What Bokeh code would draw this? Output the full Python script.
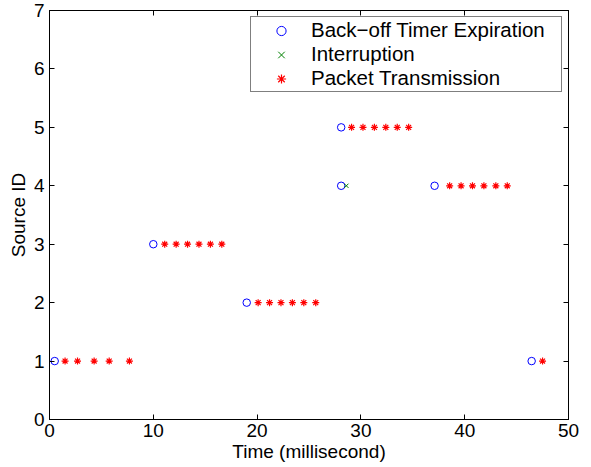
from bokeh.plotting import figure
from bokeh.models import Range1d, LinearAxis, FixedTicker, Legend, LegendItem
from bokeh.embed import file_html
from bokeh.resources import INLINE

# ---- data ----
backoff_time = [0.5, 10.0, 19.0, 28.1, 28.1, 37.1, 46.45]
backoff_src = [1, 3, 2, 5, 4, 4, 1]

interrupt_time = [28.6]
interrupt_src = [4]

tx_time = [1.5, 2.7, 4.3, 5.75, 7.7,
           11.1, 12.2, 13.3, 14.4, 15.5, 16.6,
           20.1, 21.2, 22.3, 23.4, 24.5, 25.65,
           29.1, 30.2, 31.3, 32.4, 33.5, 34.6,
           38.55, 39.65, 40.75, 41.85, 43.0, 44.1,
           47.5]
tx_src = [1, 1, 1, 1, 1,
          3, 3, 3, 3, 3, 3,
          2, 2, 2, 2, 2, 2,
          5, 5, 5, 5, 5, 5,
          4, 4, 4, 4, 4, 4,
          1]

x_ticks = [0, 10, 20, 30, 40, 50]
y_ticks = [0, 1, 2, 3, 4, 5, 6, 7]
series_labels = ["Back\u2212off Timer Expiration", "Interruption", "Packet Transmission"]

FONT = "Liberation Sans"

p = figure(width=591, height=467, output_backend="svg", toolbar_location=None,
           x_range=Range1d(0, 50), y_range=Range1d(0, 7),
           min_border_left=49, min_border_right=23, min_border_top=10, min_border_bottom=48)
p.outline_line_color = "black"
p.outline_line_width = 1
p.grid.visible = False
p.background_fill_color = "white"
p.border_fill_color = "white"

for ax, ticks in ((p.xaxis[0], x_ticks), (p.yaxis[0], y_ticks)):
    ax.ticker = FixedTicker(ticks=ticks)
    ax.major_tick_in = 5
    ax.major_tick_out = 0
    ax.minor_tick_in = 0
    ax.minor_tick_out = 0
    ax.axis_line_color = "black"
    ax.major_tick_line_color = "black"
    ax.major_label_text_font = FONT
    ax.major_label_text_font_size = "19px"
    ax.major_label_text_color = "black"
    ax.axis_label_text_font = FONT
    ax.axis_label_text_font_size = "19px"
    ax.axis_label_text_font_style = "normal"
    ax.axis_label_text_color = "black"

p.xaxis[0].axis_label = "Time (millisecond)"
p.xaxis[0].major_label_standoff = 4
p.xaxis[0].axis_label_standoff = 1
p.yaxis[0].axis_label = "Source ID"
p.yaxis[0].major_label_standoff = 5
p.yaxis[0].axis_label_standoff = 2

# box ticks on top and right
for loc, ticks in (("right", y_ticks), ("above", x_ticks)):
    a = LinearAxis(ticker=FixedTicker(ticks=ticks), major_tick_in=5, major_tick_out=0,
                   minor_tick_in=0, minor_tick_out=0,
                   major_label_overrides={t: "" for t in ticks},
                   major_label_standoff=0, axis_line_color="black")
    p.add_layout(a, loc)

r1 = p.scatter(backoff_time, backoff_src, marker="circle", size=7.5, fill_color=None,
               line_color="#0000ff", line_width=1)
r2 = p.scatter(interrupt_time, interrupt_src, marker="x", size=6,
               line_color="#008000", line_width=1)
r3 = p.scatter(tx_time, tx_src, marker="asterisk", size=7,
               line_color="#ff0000", line_width=1.2)

legend = Legend(items=[LegendItem(label=series_labels[0], renderers=[r1]),
                       LegendItem(label=series_labels[1], renderers=[r2]),
                       LegendItem(label=series_labels[2], renderers=[r3])],
                location="top_right", margin=6, padding=1, spacing=0,
                glyph_width=58, glyph_height=23, label_height=23, label_width=249,
                label_standoff=1, label_text_font=FONT, label_text_font_size="20.5px",
                label_text_color="black", border_line_color="black", border_line_width=1,
                background_fill_color="white", background_fill_alpha=1)
p.add_layout(legend)

open("out.html", "w").write(file_html(p, INLINE))
